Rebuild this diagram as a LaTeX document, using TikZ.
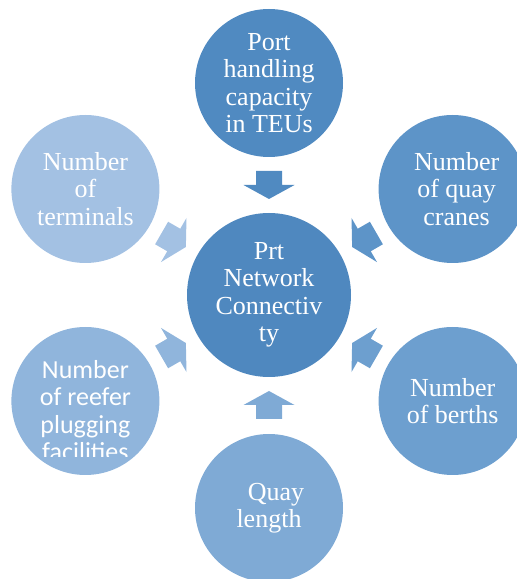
\documentclass[tikz,border=0pt]{standalone}
\usepackage{fontspec}
\setmainfont{Liberation Serif}
\newfontfamily\reeferfont{Carlito}
\usepackage{xcolor}
\usepackage{tikz}
\usetikzlibrary{calc}

\definecolor{hubblue}{RGB}{79,136,191}
\definecolor{shadeA}{RGB}{80,138,193}
\definecolor{shadeB}{RGB}{93,148,200}
\definecolor{shadeC}{RGB}{109,159,207}
\definecolor{shadeD}{RGB}{127,170,213}
\definecolor{shadeE}{RGB}{144,181,220}
\definecolor{shadeF}{RGB}{163,193,227}

\begin{document}
\begin{tikzpicture}[x=1pt,y=1pt,
	bubble/.style={circle, minimum size=148pt, inner sep=0pt, fill=#1},
	words/.style={text=white, align=center, inner sep=0pt, font=\fontsize{26}{27.5}\selectfont}]
	\useasboundingbox (0,0) rectangle (517,579);
	% hub and the six factors around it
	\node[bubble=hubblue, minimum size=164pt, label={[words]center:Prt\\Network\\Connectiv\\ty}] (hub) at (269,284) {};
	\node[bubble=shadeA, label={[words]center:Port\\handling\\capacity\\in TEUs}] (teu) at ($(hub)+(90:212pt)$) {};
	\node[bubble=shadeB, label={[words, xshift=4pt]center:Number\\of quay\\cranes}] (cranes) at ($(hub)+(30:212pt)$) {};
	\node[bubble=shadeC, label={[words]center:Number\\of berths}] (berths) at ($(hub)+(-30:212pt)$) {};
	\node[bubble=shadeD, label={[words]center:\hspace*{14pt}Quay\\length}] (quay) at ($(hub)+(-90:213pt)$) {};
	\node[bubble=shadeE] (reefer) at ($(hub)+(-150:212pt)$) {};
	\node[bubble=shadeF, label={[words]center:Number\\of\\terminals}] (terminals) at ($(hub)+(150:212pt)$) {};
	\begin{scope}
		\clip (0,122) rectangle (517,579);
		\node[words, font=\reeferfont\fontsize{26}{27.5}\selectfont, anchor=north] (reefertext) at ($(reefer)+(0,41)$) {Number\\of reefer\\plugging\\facilities};
	\end{scope}
	% block arrows into the hub
	\foreach \sat/\ang/\col in {teu/90/shadeA, cranes/30/shadeB, berths/-30/shadeC, quay/-90/shadeD, reefer/-150/shadeE, terminals/150/shadeF}
		\fill[\col, shift={($(hub.center)!110pt!(\sat.center)$)}, rotate=\ang+180]
			(-14,13) -- (0,13) -- (0,25.5) -- (14,0) -- (0,-25.5) -- (0,-13) -- (-14,-13) -- cycle;
\end{tikzpicture}
\end{document}
